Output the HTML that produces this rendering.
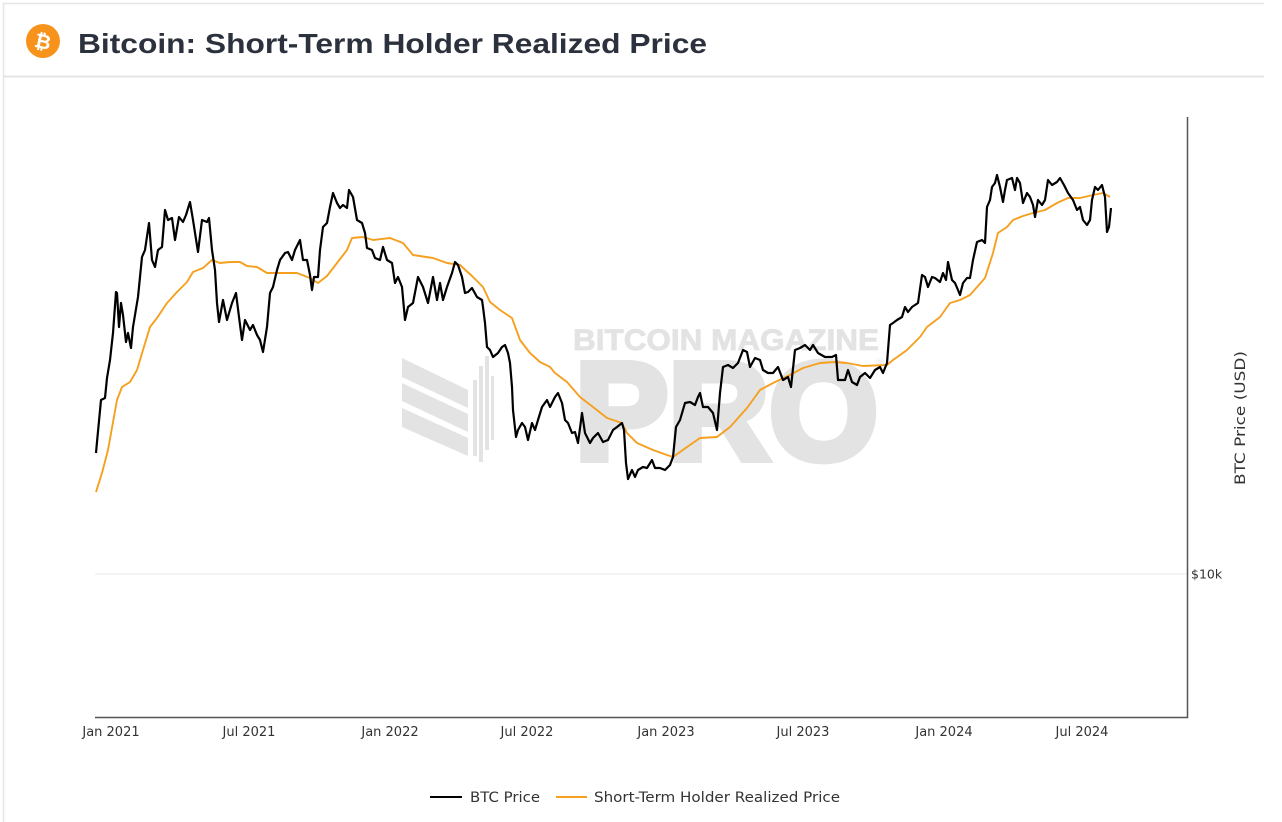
<!DOCTYPE html>
<html>
<head>
<meta charset="utf-8">
<style>
html,body{margin:0;padding:0;background:#fff;}
svg{display:block;}
</style>
</head>
<body>
<svg width="1282" height="822" viewBox="0 0 1282 822" xmlns="http://www.w3.org/2000/svg">
<rect x="0" y="0" width="1282" height="822" fill="#ffffff"/>
<!-- frame -->
<line x1="3" y1="3.5" x2="1264" y2="3.5" stroke="#e6e6e6" stroke-width="1.5"/>
<line x1="3.5" y1="3" x2="3.5" y2="822" stroke="#e6e6e6" stroke-width="1.5"/>
<line x1="3" y1="76.5" x2="1264" y2="76.5" stroke="#e4e4e4" stroke-width="2"/>

<!-- header icon -->
<circle cx="43" cy="41" r="17" fill="#f7931a"/>
<text x="43" y="48.5" text-anchor="middle" font-family="Liberation Sans, DejaVu Sans, sans-serif" font-weight="bold" font-size="20" fill="#ffffff" transform="rotate(12 43 41)">₿</text>
<text x="78" y="53" font-family="Liberation Sans, sans-serif" font-weight="bold" font-size="28" fill="#2c323d" textLength="629" lengthAdjust="spacingAndGlyphs">Bitcoin: Short-Term Holder Realized Price</text>

<!-- watermark -->
<g fill="#e3e3e3">
<polygon points="402,358 468,390 468,408 402,377"/>
<polygon points="402,383 468,414 468,432 402,401"/>
<polygon points="402,408 468,438 468,456 402,427"/>
<rect x="473" y="380" width="4" height="76"/>
<rect x="479" y="366" width="4" height="96"/>
<rect x="485" y="356" width="4" height="94"/>
<rect x="491" y="376" width="3" height="64"/>
<text x="573" y="350" font-family="Liberation Sans, sans-serif" font-weight="bold" font-size="30" stroke="#e3e3e3" stroke-width="0.8" textLength="306" lengthAdjust="spacingAndGlyphs">BITCOIN MAGAZINE</text>
<text x="575" y="459" font-family="Liberation Sans, sans-serif" font-weight="bold" font-size="138" stroke="#e3e3e3" stroke-width="8" stroke-linejoin="miter" textLength="303" lengthAdjust="spacingAndGlyphs">PRO</text>
<text x="876" y="366" font-family="Liberation Sans, sans-serif" font-size="11">®</text>
</g>

<!-- grid -->
<line x1="95" y1="574" x2="1187" y2="574" stroke="#e8e8e8" stroke-width="1"/>

<!-- series -->
<polyline fill="none" stroke="#f5a01f" stroke-width="1.9" stroke-linejoin="round" points="96,492 102,473 108,450 117,400 122,387 130,382 137,370 143,350 150,327 157,318 167,303 177,292 187,282 193,272 203,268 212,260 220,263 230,262 240,262 247,266 257,267 267,273 280,273 297,273 310,278 318,283 327,276 337,263 347,250 352,238 363,237 373,240 390,238 403,243 413,255 433,258 447,263 460,265 473,277 483,287 490,302 500,310 512,318 520,340 530,353 540,362 550,367 555,373 567,382 580,397 593,407 607,418 622,423 627,433 637,443 653,450 667,455 673,457 687,447 700,438 717,437 730,427 747,408 760,390 773,383 790,375 803,368 820,363 835,362 847,363 863,366 887,365 893,360 907,350 920,337 927,327 940,317 950,303 960,300 970,295 985,278 993,253 998,233 1007,227 1013,220 1023,216 1033,213 1045,210 1057,203 1068,198 1080,198 1093,195 1103,193 1110,197"/>
<polyline fill="none" stroke="#000000" stroke-width="2.2" stroke-linejoin="round" points="96,453 97,442 101,400 105,398 107,378 110,360 113,333 116,292 117,293 119,327 121,303 123,315 126,342 128,333 131,348 133,327 138,297 142,257 145,250 149,223 152,260 155,267 158,250 162,247 165,210 168,220 172,218 175,240 179,217 183,222 186,215 190,202 193,220 198,252 202,220 207,222 209,218 212,250 215,270 217,303 219,322 223,300 227,320 232,303 236,293 239,317 242,340 245,320 250,330 253,325 257,335 260,340 263,352 267,327 270,293 273,287 277,270 280,260 285,253 288,252 292,260 295,250 300,240 303,260 307,260 310,275 312,290 314,277 318,277 320,250 323,227 327,223 330,207 333,193 337,203 340,208 343,205 347,208 349,190 353,197 357,220 362,223 365,233 367,248 372,250 375,258 380,260 383,247 387,260 392,263 395,283 398,277 402,287 405,320 408,307 413,303 418,277 423,287 428,303 433,277 437,300 440,283 443,300 447,287 452,273 455,262 458,265 462,277 465,293 468,292 472,288 477,297 482,300 483,307 485,323 487,347 490,350 493,357 498,353 502,347 505,345 508,353 510,363 512,387 513,410 516,437 518,430 522,423 525,427 528,440 532,423 535,430 538,420 542,407 547,400 550,407 555,397 558,393 562,403 565,420 568,423 572,433 575,432 578,443 582,413 585,433 590,443 593,438 598,433 603,442 608,440 613,430 617,427 622,423 624,430 626,463 628,479 632,470 635,477 638,470 643,467 647,468 652,460 655,468 660,468 665,470 670,465 673,457 676,427 680,420 685,403 690,402 695,405 698,397 700,393 703,407 708,407 713,413 717,430 720,393 723,367 728,365 733,368 738,363 743,350 747,352 750,367 755,358 760,360 763,370 768,373 773,373 778,367 783,380 788,377 791,387 795,350 800,348 805,345 810,350 813,345 818,353 825,357 832,357 836,355 838,380 845,380 848,370 852,382 857,385 860,377 865,373 870,378 875,370 880,367 883,373 887,363 890,325 893,323 897,320 902,317 905,307 908,312 912,307 915,305 918,303 922,275 925,277 928,287 932,277 935,278 940,282 943,273 946,280 948,262 952,280 955,283 958,290 960,295 963,283 967,278 970,278 973,260 977,242 982,240 985,243 987,207 990,200 992,187 995,183 997,175 1000,187 1003,202 1005,190 1007,180 1012,178 1015,190 1017,178 1020,183 1023,203 1027,193 1030,197 1033,205 1035,217 1038,200 1042,205 1045,200 1048,180 1052,185 1057,182 1060,178 1064,185 1068,193 1073,200 1077,210 1080,207 1083,220 1087,225 1090,220 1092,200 1095,187 1098,190 1102,185 1105,197 1107,232 1109,227 1111,208"/>

<!-- axes -->
<line x1="95" y1="717.5" x2="1188" y2="717.5" stroke="#555" stroke-width="1.5"/>
<line x1="1187.5" y1="117" x2="1187.5" y2="718" stroke="#555" stroke-width="1.5"/>

<!-- tick labels -->
<g font-family="DejaVu Sans, Verdana, sans-serif" font-size="13" fill="#333" text-anchor="middle">
<text x="111" y="736">Jan 2021</text>
<text x="249" y="736">Jul 2021</text>
<text x="390" y="736">Jan 2022</text>
<text x="527" y="736">Jul 2022</text>
<text x="666" y="736">Jan 2023</text>
<text x="803" y="736">Jul 2023</text>
<text x="944" y="736">Jan 2024</text>
<text x="1082" y="736">Jul 2024</text>
</g>
<text x="1191" y="578.5" font-family="DejaVu Sans, Verdana, sans-serif" font-size="12.5" fill="#333">$10k</text>
<text transform="translate(1245 418) rotate(-90)" text-anchor="middle" font-family="DejaVu Sans, Verdana, sans-serif" font-size="14" fill="#333" textLength="134" lengthAdjust="spacingAndGlyphs">BTC Price (USD)</text>

<!-- legend -->
<line x1="430" y1="797" x2="462" y2="797" stroke="#000" stroke-width="2"/>
<text x="470" y="802" font-family="DejaVu Sans, Verdana, sans-serif" font-size="14" fill="#333" textLength="70" lengthAdjust="spacingAndGlyphs">BTC Price</text>
<line x1="556" y1="797" x2="587" y2="797" stroke="#f5a01f" stroke-width="2"/>
<text x="594" y="802" font-family="DejaVu Sans, Verdana, sans-serif" font-size="14" fill="#333" textLength="246" lengthAdjust="spacingAndGlyphs">Short-Term Holder Realized Price</text>
</svg>
</body>
</html>
